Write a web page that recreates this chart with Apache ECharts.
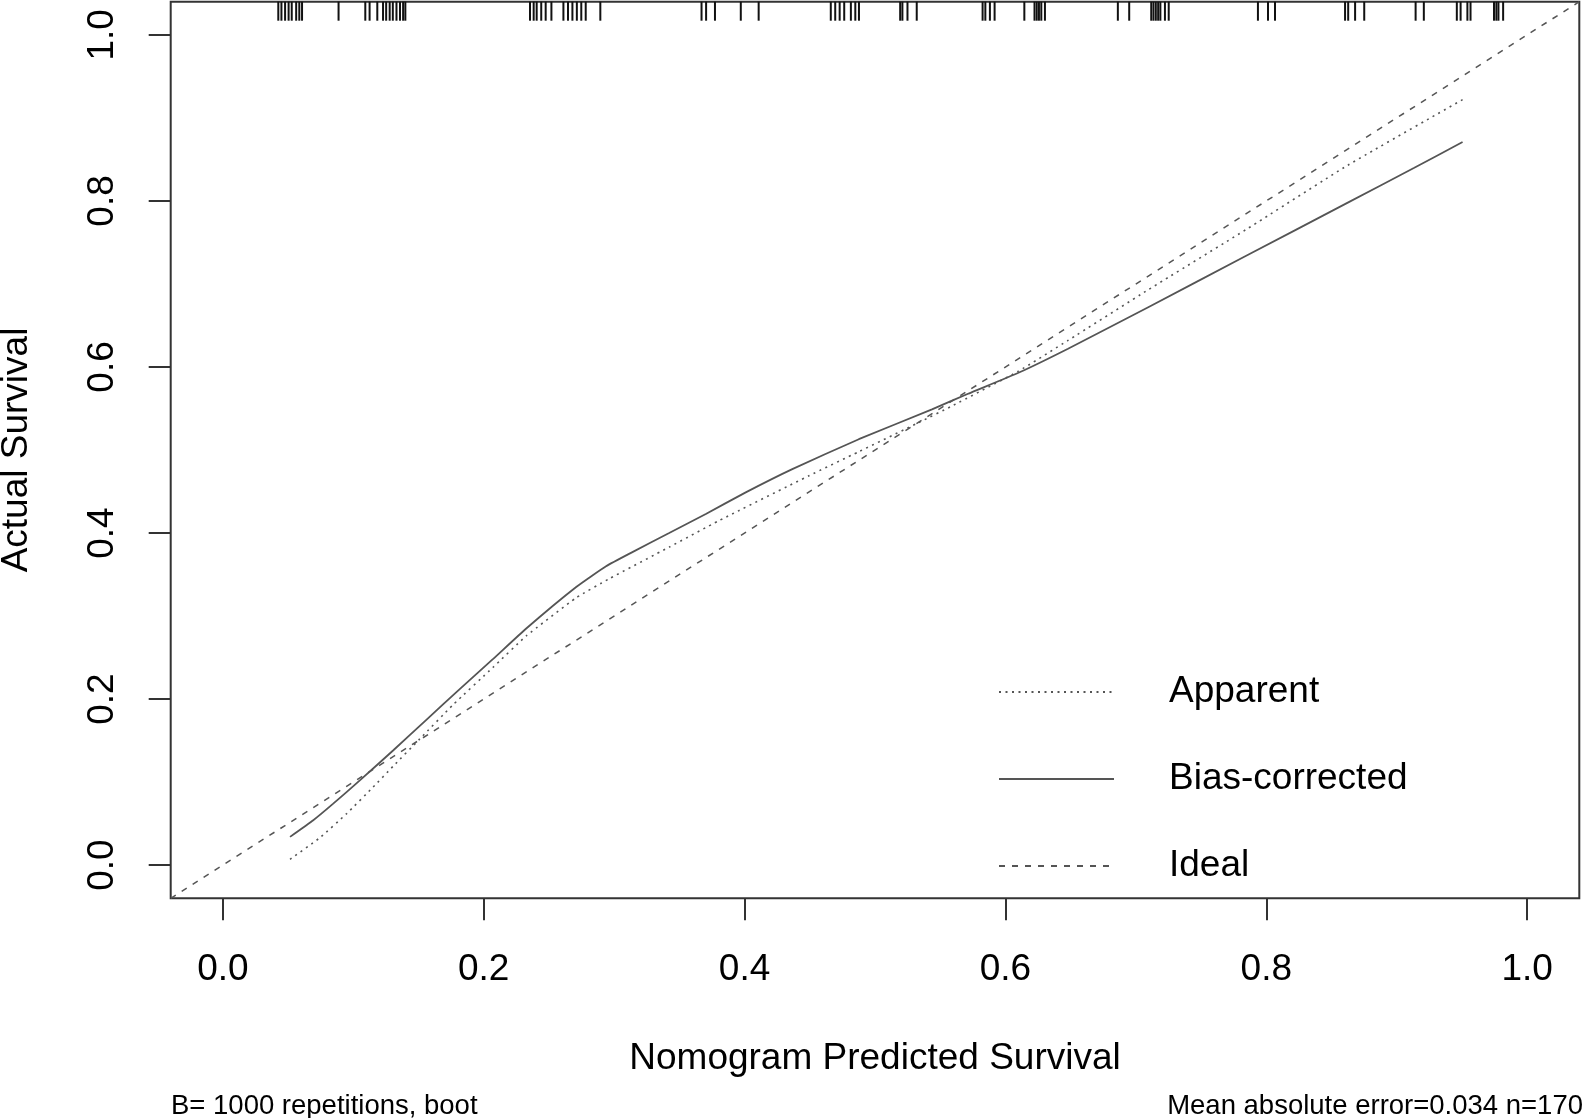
<!DOCTYPE html>
<html>
<head>
<meta charset="utf-8">
<script src="https://cdn.jsdelivr.net/npm/echarts@6/dist/echarts.min.js"></script>
<style>
html,body{margin:0;padding:0;background:#fff;}
#main{width:1584px;height:1118px;}
</style>
</head>
<body>
<div id="main"></div>
<script>
// axis ticks
var tickValues=[0,0.2,0.4,0.6,0.8,1.0];
// Apparent (dotted)
var appX=[0.0515,0.0744,0.0949,0.1152,0.1305,0.151,0.1764,0.207,0.2326,0.2709,0.2963,0.3422,0.3805,0.4494,0.4876,0.5335,0.559,0.610,0.648,0.7095,0.786,0.8625,0.9505];
var appY=[0.007,0.033,0.062,0.094,0.119,0.152,0.193,0.238,0.276,0.322,0.345,0.383,0.415,0.469,0.498,0.533,0.553,0.595,0.632,0.693,0.767,0.843,0.922];
// Bias-corrected (solid)
var bcX=[0.0515,0.0693,0.0846,0.105,0.1305,0.156,0.1816,0.207,0.2326,0.2709,0.2938,0.314,0.3422,0.3703,0.4009,0.4366,0.4876,0.5437,0.5718,0.610,0.648,0.7095,0.7835,0.8625,0.9135,0.9505];
var bcY=[0.034,0.054,0.074,0.102,0.138,0.175,0.212,0.248,0.285,0.335,0.360,0.377,0.400,0.423,0.449,0.477,0.513,0.549,0.568,0.593,0.622,0.672,0.733,0.798,0.840,0.871];
// Ideal (dashed), y = x across the plot range
var idealX=[-0.04,1.04];
// rug of predicted values along the top
var rugX=[0.0425,0.0449,0.0477,0.0504,0.0528,0.0562,0.0586,0.0607,0.0887,
  0.1092,0.1125,0.1184,0.1228,0.1252,0.1279,0.1303,0.1331,0.1358,0.1382,0.1399,
  0.2355,0.2383,0.2406,0.2441,0.2475,0.2519,0.2611,0.2646,0.268,0.2714,0.2748,0.2782,0.2894,
  0.367,0.3705,0.3773,0.3971,0.4108,
  0.4661,0.4695,0.4729,0.4764,0.4815,0.4849,0.4877,0.5193,0.521,0.5249,0.532,
  0.5825,0.5846,0.5881,0.5917,0.6145,0.6223,0.624,0.6257,0.6275,0.6303,
  0.6862,0.6949,0.7118,0.7135,0.7153,0.7171,0.7188,0.7223,0.7252,
  0.7936,0.8013,0.8067,0.8604,0.8628,0.8681,0.8751,0.9145,0.9208,
  0.9461,0.949,0.9542,0.9566,0.9746,0.9764,0.978,0.9816];

function pairs(xs,ys){
    return xs.map(function(x,i){return [x,ys[i]];});
}

var font='"Liberation Sans", Arial, Helvetica, sans-serif';
var lineColor='#555555';
var myChart=echarts.init(document.getElementById('main'));

var option={
    animation:false,
    backgroundColor:'#ffffff',
    textStyle:{fontFamily:font},
    grid:{
        left:170.7,right:4.7,top:1.7,bottom:219.7,
        show:true,borderColor:'#333',borderWidth:2,backgroundColor:'transparent',
        outerBoundsMode:'none'
    },
    title:[
        {text:'B= 1000 repetitions, boot',left:171,top:1092,padding:0,
         textStyle:{fontSize:27.5,fontWeight:'normal',color:'#000',fontFamily:font}},
        {text:'Mean absolute error=0.034 n=170',right:1,top:1092,padding:0,
         textStyle:{fontSize:27.5,fontWeight:'normal',color:'#000',fontFamily:font}}
    ],
    legend:{
        data:['Apparent','Bias-corrected','Ideal'],
        orient:'vertical',
        left:998,top:672,padding:0,
        itemWidth:115,itemHeight:14,itemGap:47,
        selectedMode:false,
        itemStyle:{color:'transparent',borderColor:'transparent',borderWidth:0},
        textStyle:{fontSize:37,color:'#000',lineHeight:40,padding:[0,0,0,50],fontFamily:font}
    },
    xAxis:{
        type:'value',min:-0.04,max:1.04,
        splitLine:{show:false},
        axisLine:{show:false,onZero:false},
        axisTick:{show:true,length:22,customValues:tickValues,lineStyle:{color:'#333',width:2}},
        axisLabel:{customValues:tickValues,formatter:function(v){return v.toFixed(1);},
            fontSize:37,color:'#000',margin:53,fontFamily:font},
        name:'Nomogram Predicted Survival',nameLocation:'middle',nameGap:142,nameMoveOverlap:false,
        nameTextStyle:{fontSize:37,color:'#000',fontFamily:font}
    },
    yAxis:{
        type:'value',min:-0.04,max:1.04,
        splitLine:{show:false},
        axisLine:{show:false,onZero:false},
        axisTick:{show:true,length:22,customValues:tickValues,lineStyle:{color:'#333',width:2}},
        axisLabel:{customValues:tickValues,formatter:function(v){return v.toFixed(1);},
            rotate:90,fontSize:37,color:'#000',margin:49,fontFamily:font},
        name:'Actual Survival',nameLocation:'middle',nameGap:135,nameMoveOverlap:false,
        nameTextStyle:{fontSize:37,color:'#000',fontFamily:font}
    },
    series:[
        {
            name:'Apparent',type:'line',data:pairs(appX,appY),
            symbol:'none',smooth:0.15,
            lineStyle:{color:lineColor,width:1.6,type:[2,4.5]},
            itemStyle:{color:lineColor}
        },
        {
            name:'Bias-corrected',type:'line',data:pairs(bcX,bcY),
            symbol:'none',smooth:0.15,
            lineStyle:{color:lineColor,width:1.8,type:'solid'},
            itemStyle:{color:lineColor}
        },
        {
            name:'Ideal',type:'line',data:pairs(idealX,idealX),
            symbol:'none',
            lineStyle:{color:lineColor,width:1.5,type:[6,7]},
            itemStyle:{color:lineColor}
        },
        {
            name:'rug',type:'custom',silent:true,
            data:rugX.map(function(x){return [x,1.04];}),
            encode:{x:0,y:1},
            renderItem:function(params,api){
                var p=api.coord([api.value(0),api.value(1)]);
                return {
                    type:'line',
                    shape:{x1:p[0],y1:p[1],x2:p[0],y2:p[1]+19},
                    style:{stroke:'#111',lineWidth:2}
                };
            }
        }
    ]
};
myChart.setOption(option);
</script>
</body>
</html>
